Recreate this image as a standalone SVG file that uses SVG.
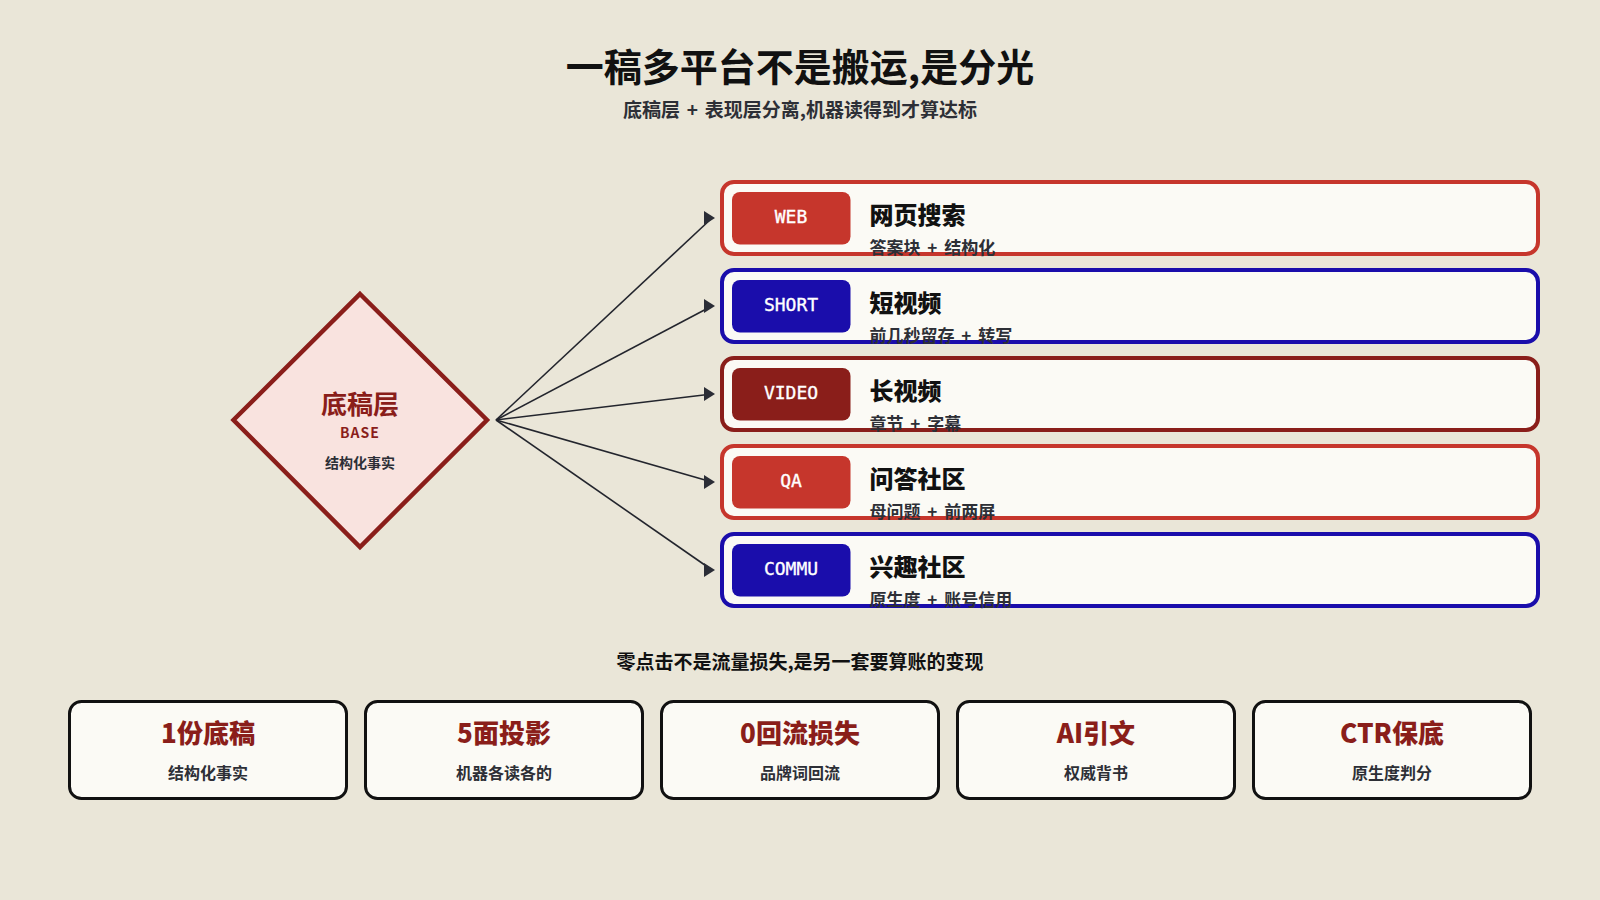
<svg xmlns="http://www.w3.org/2000/svg" width="1600" height="900" viewBox="0 0 1600 900">
<defs>
<marker id="arrow" markerUnits="userSpaceOnUse" markerWidth="12" markerHeight="16" refX="8" refY="8" orient="0"><polygon points="0,1 11,8 0,15" fill="#2B2D36"/></marker>
</defs>
<style>
text{font-family:"Noto Sans CJK SC","Noto Sans",sans-serif;text-anchor:middle;font-weight:700}
.card{fill:#FBFAF5;stroke-width:4}
.pill{stroke:none}
.tag{font-family:"DejaVu Sans Mono","Noto Sans CJK SC",monospace;font-size:18px;font-weight:400;fill:#fff;stroke:#fff;stroke-width:.35px}
.ct{font-size:24px;fill:#111;text-anchor:start;font-weight:900}
.cs{font-size:17px;fill:#2D2F36;text-anchor:start;word-spacing:3px}
.r{stroke:#C6362C}.b{stroke:#1A0DAB}.d{stroke:#8A1E1A}
.rf{fill:#C6362C}.bf{fill:#1A0DAB}.df{fill:#8A1E1A}
.stat{fill:#FBFAF5;stroke:#111;stroke-width:3}
.st{font-size:26px;fill:#8A1E1A;font-weight:900}
.ss{font-size:16px;fill:#2D2F36}
</style>
<rect width="1600" height="900" fill="#EAE6D8"/>
<text id="title" x="800" y="81" font-size="38" fill="#111" font-weight="900">一稿多平台不是搬运,是分光</text>
<text id="subtitle" x="800" y="117" font-size="19" fill="#2D2F36" word-spacing="2.5">底稿层 + 表现层分离,机器读得到才算达标</text>
<g id="connectors" fill="none" stroke="#23252D" stroke-width="1.6" marker-end="url(#arrow)">
<line x1="496" y1="420" x2="712" y2="218"/>
<line x1="496" y1="420" x2="712" y2="306"/>
<line x1="496" y1="420" x2="712" y2="394"/>
<line x1="496" y1="420" x2="712" y2="482"/>
<line x1="496" y1="420" x2="712" y2="570"/>
</g>
<g id="base">
<polygon points="360,294 487,420 360,547 233.500,420" fill="#F9E3DF" stroke="#8A1E1A" stroke-width="4.500"/>
<text x="360" y="414" font-size="26" fill="#8A1E1A" font-weight="900">底稿层</text>
<text x="360" y="438" font-size="14" letter-spacing="1" fill="#8A1E1A" font-weight="500">BASE</text>
<text x="360" y="468" font-size="14" fill="#2D2F36">结构化事实</text>
</g>
<g id="web"><rect class="card r" x="722" y="182" width="816" height="72" rx="12"/><rect class="pill rf" x="732" y="192" width="118.500" height="52.500" rx="8"/><text class="tag" x="791" y="223">WEB</text><text class="ct" x="869.500" y="224">网页搜索</text><text class="cs" x="869.500" y="253.700">答案块 + 结构化</text></g>
<g id="short"><rect class="card b" x="722" y="270" width="816" height="72" rx="12"/><rect class="pill bf" x="732" y="280" width="118.500" height="52.500" rx="8"/><text class="tag" x="791" y="311">SHORT</text><text class="ct" x="869.500" y="312">短视频</text><text class="cs" x="869.500" y="341.700">前几秒留存 + 转写</text></g>
<g id="video"><rect class="card d" x="722" y="358" width="816" height="72" rx="12"/><rect class="pill df" x="732" y="368" width="118.500" height="52.500" rx="8"/><text class="tag" x="791" y="399">VIDEO</text><text class="ct" x="869.500" y="400">长视频</text><text class="cs" x="869.500" y="429.700">章节 + 字幕</text></g>
<g id="qa"><rect class="card r" x="722" y="446" width="816" height="72" rx="12"/><rect class="pill rf" x="732" y="456" width="118.500" height="52.500" rx="8"/><text class="tag" x="791" y="487">QA</text><text class="ct" x="869.500" y="488">问答社区</text><text class="cs" x="869.500" y="517.700">母问题 + 前两屏</text></g>
<g id="commu"><rect class="card b" x="722" y="534" width="816" height="72" rx="12"/><rect class="pill bf" x="732" y="544" width="118.500" height="52.500" rx="8"/><text class="tag" x="791" y="575">COMMU</text><text class="ct" x="869.500" y="576">兴趣社区</text><text class="cs" x="869.500" y="605.700">原生度 + 账号信用</text></g>
<text id="caption" x="800" y="669" font-size="19" fill="#111">零点击不是流量损失,是另一套要算账的变现</text>
<g id="s1"><rect class="stat" x="69.500" y="701.500" width="277" height="97" rx="12"/><text class="st" x="208" y="743">1份底稿</text><text class="ss" x="208" y="779">结构化事实</text></g>
<g id="s2"><rect class="stat" x="365.500" y="701.500" width="277" height="97" rx="12"/><text class="st" x="504" y="743">5面投影</text><text class="ss" x="504" y="779">机器各读各的</text></g>
<g id="s3"><rect class="stat" x="661.500" y="701.500" width="277" height="97" rx="12"/><text class="st" x="800" y="743">0回流损失</text><text class="ss" x="800" y="779">品牌词回流</text></g>
<g id="s4"><rect class="stat" x="957.500" y="701.500" width="277" height="97" rx="12"/><text class="st" x="1096" y="743">AI引文</text><text class="ss" x="1096" y="779">权威背书</text></g>
<g id="s5"><rect class="stat" x="1253.500" y="701.500" width="277" height="97" rx="12"/><text class="st" x="1392" y="743">CTR保底</text><text class="ss" x="1392" y="779">原生度判分</text></g>
</svg>
